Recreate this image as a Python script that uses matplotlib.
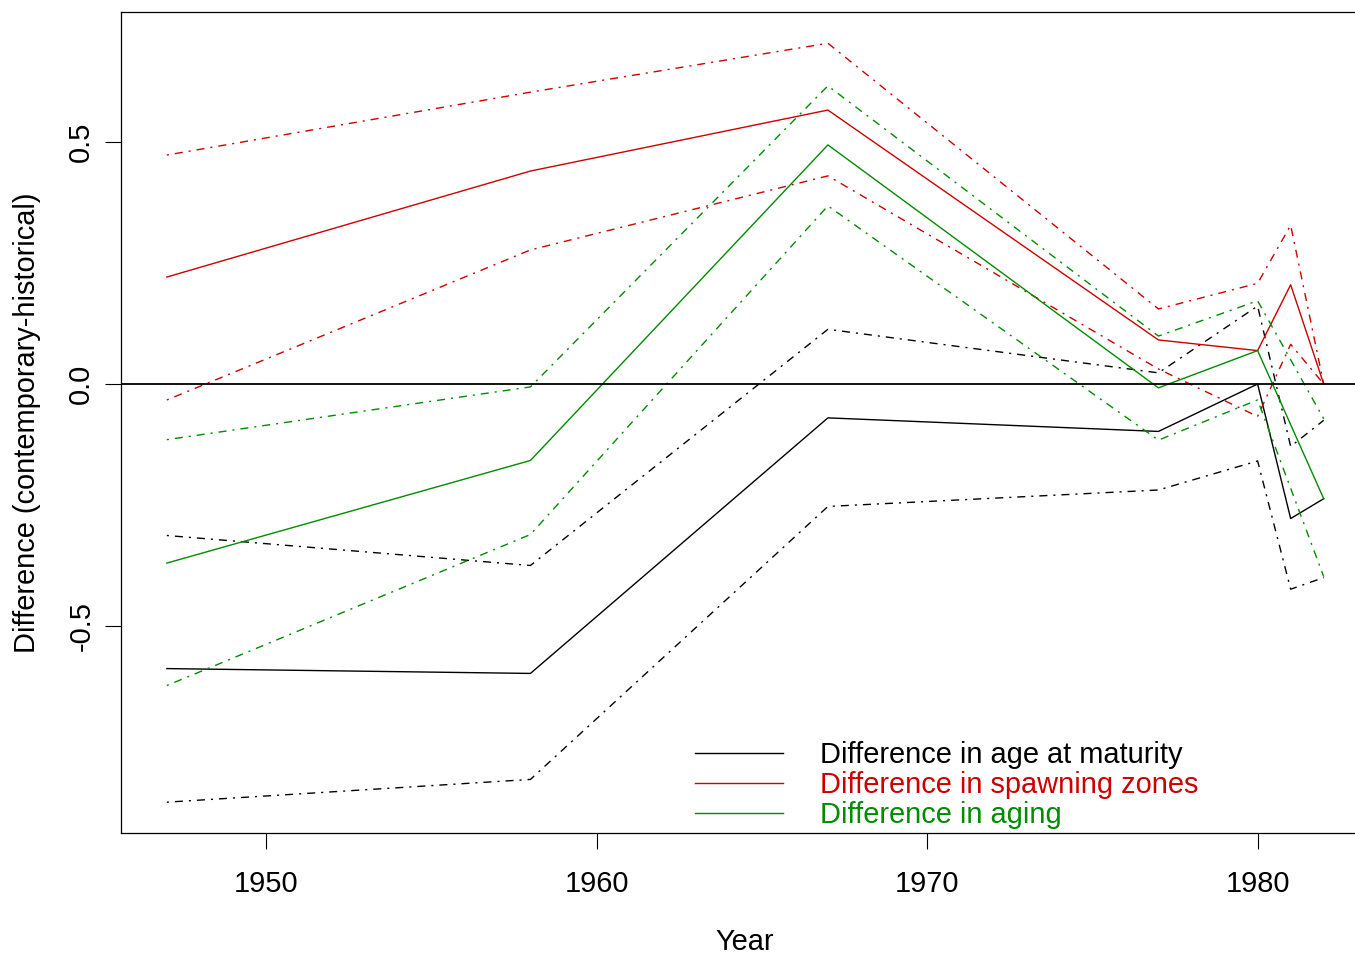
import matplotlib
import matplotlib.pyplot as plt

plt.switch_backend('agg')
plt.rcParams['font.family'] = ['Liberation Sans', 'DejaVu Sans']

# survey years (aging has no 1981 value)
years = [1947, 1958, 1967, 1977, 1980, 1981, 1982]
years_aging = [1947, 1958, 1967, 1977, 1980, 1982]

# difference in age at maturity: estimate, upper and lower bounds
age_mid = [-0.588, -0.598, -0.070, -0.098, 0.000, -0.278, -0.237]
age_hi = [-0.313, -0.375, 0.113, 0.023, 0.161, -0.129, -0.075]
age_lo = [-0.864, -0.817, -0.253, -0.219, -0.159, -0.424, -0.400]

# difference in spawning zones
spawn_mid = [0.221, 0.440, 0.566, 0.091, 0.069, 0.205, 0.0]
spawn_hi = [0.473, 0.603, 0.704, 0.155, 0.208, 0.328, 0.0]
spawn_lo = [-0.033, 0.277, 0.430, 0.031, -0.067, 0.082, 0.0]

# difference in aging
aging_mid = [-0.370, -0.158, 0.494, -0.008, 0.069, -0.237]
aging_hi = [-0.115, -0.006, 0.616, 0.099, 0.172, -0.072]
aging_lo = [-0.623, -0.311, 0.368, -0.116, -0.033, -0.398]

labels = ['Difference in age at maturity', 'Difference in spawning zones', 'Difference in aging']
cols = ['black', '#CD0000', '#008B00']

fs = 20.9
dotdash = (0, (1.5, 4.3, 5.8, 4.3))

fig = plt.figure(figsize=(13.55, 9.56), dpi=100)
ax = fig.add_axes([121/1355, 123/956, 1248/1355, 821/956])

series = [(years, age_mid, age_hi, age_lo),
          (years, spawn_mid, spawn_hi, spawn_lo),
          (years_aging, aging_mid, aging_hi, aging_lo)]
for (x, mid, hi, lo), c, lab in zip(series, cols, labels):
    ax.plot(x, mid, color=c, lw=1.0, label=lab)
    ax.plot(x, hi, color=c, lw=1.0, linestyle=dotdash)
    ax.plot(x, lo, color=c, lw=1.0, linestyle=dotdash)

ax.axhline(0, color='black', lw=1.3)

ax.set_xlim(1945.613, 1983.37)
ax.set_ylim(-0.9277, 0.7686)
ax.set_xticks([1950, 1960, 1970, 1980])
ax.set_yticks([-0.5, 0.0, 0.5])
ax.set_yticklabels(['-0.5', '0.0', '0.5'], rotation=90, va='center')
ax.tick_params(axis='both', length=11.5, width=0.8, labelsize=fs)
ax.tick_params(axis='x', pad=15)
ax.tick_params(axis='y', pad=7)
for s in ax.spines.values():
    s.set_linewidth(0.9)

ax.set_xlabel('Year', fontsize=fs, labelpad=22)
ax.set_ylabel('Difference (contemporary-historical)', fontsize=fs, labelpad=19)

leg = ax.legend(loc='upper left', bbox_to_anchor=(695/1355, 1 - 741/956),
                bbox_transform=fig.transFigure, frameon=False, fontsize=fs,
                handlelength=3.03, handletextpad=1.28, labelspacing=0.07,
                borderpad=0, borderaxespad=0, labelcolor=cols)

plt.savefig('out.png', dpi=100)
